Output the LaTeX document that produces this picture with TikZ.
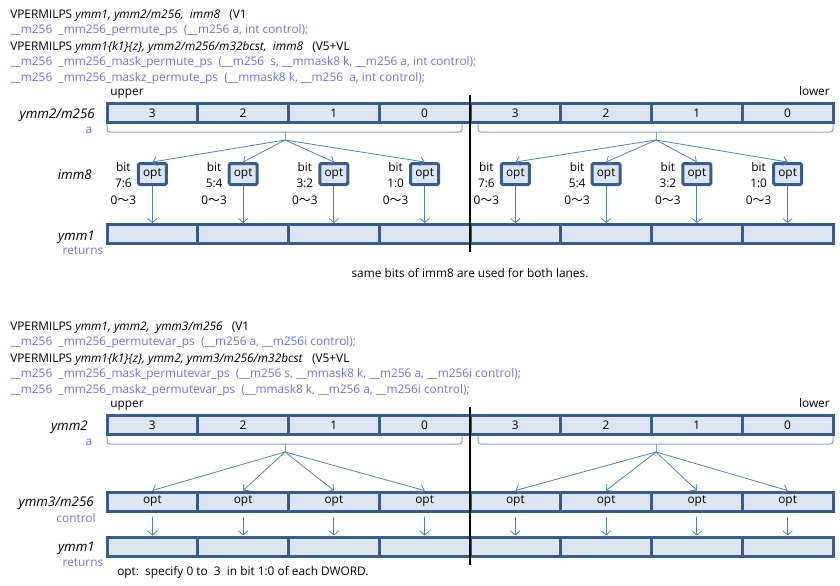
\documentclass[tikz,border=0pt]{standalone}
\usepackage{fontspec}
\setmainfont{Open Sans}
\newfontfamily\jpfont{Noto Sans CJK JP}
\usetikzlibrary{arrows.meta}
\definecolor{cellfill}{HTML}{DCE6F2}
\definecolor{celldraw}{HTML}{385D8A}
\definecolor{arrowblue}{HTML}{4F81BD}
\definecolor{bracecol}{HTML}{7F9FCF}
\definecolor{codeblue}{HTML}{7070E8}
\newcommand{\wave}{{\jpfont 〜}}
\tikzset{
  cell/.style={draw=celldraw, fill=cellfill, line width=2.25pt,
    minimum width=68.06pt, minimum height=14.25pt, inner sep=0pt},
  optbox/.style={draw=celldraw, fill=cellfill, line width=2.25pt,
    minimum width=21pt, minimum height=15.75pt, inner sep=0pt, rounded corners=1pt},
  link/.style={draw=arrowblue, line width=0.6pt, -{Straight Barb[length=3pt,width=7pt]}},
  brace/.style={draw=bracecol, line width=0.75pt, rounded corners=2pt},
  txt/.style={anchor=base west, inner sep=0pt},
  code/.style={txt, text=codeblue},
  reg/.style={anchor=east, inner sep=0pt, font=\itshape},
  arg/.style={inner sep=0pt, text=codeblue},
  lane/.style={line width=1.2pt},
  bits/.style={align=center, inner sep=0pt, font=\fontsize{8.9}{12.4}\selectfont}
}
\begin{document}
\begin{tikzpicture}[x=0.75pt, y=-0.75pt, font=\fontsize{8.9}{10}\selectfont]
\useasboundingbox (0,0) rectangle (840,586);

% --- VPERMILPS with imm8 ---
\node[txt]  (h1) at (10,18) {VPERMILPS \textit{ymm1, ymm2/m256,\ \ imm8}\ \ \ (V1};
\node[code] (h2) at (10,33) {\_\_m256\ \ \_mm256\_permute\_ps\ \ (\_\_m256 a, int control);};
\node[txt]  (h3) at (10,50) {VPERMILPS \textit{ymm1\{k1\}\{z\}, ymm2/m256/m32bcst,\ \ imm8}\ \ \ (V5+VL};
\node[code] (h4) at (10,65) {\_\_m256\ \ \_mm256\_mask\_permute\_ps\ \ (\_\_m256\ \ s, \_\_mmask8 k, \_\_m256 a, int control);};
\node[code] (h5) at (10,81) {\_\_m256\ \ \_mm256\_maskz\_permute\_ps\ \ (\_\_mmask8 k, \_\_m256\ \ a, int control);};
\node[txt] (up1) at (110,95) {upper};
\node[anchor=base east, inner sep=0pt] (lo1) at (830,95) {lower};

\node[reg] (ya) at (95,115) {ymm2/m256};
\node[arg] (na) at (89,130) {a};
\node[reg] (yi) at (92,175) {imm8};
\node[reg] (yr) at (95,237) {ymm1};
\node[arg] (nr) at (83,251) {returns};

\foreach \v [count=\i] in {3,2,1,0,3,2,1,0} {
  \node[cell] (a\i) at (61.625+90.75*\i,113) {\v};
  \node[cell] (r\i) at (61.625+90.75*\i,234) {};
}
\foreach \b [count=\i] in {7:6,5:4,3:2,1:0,7:6,5:4,3:2,1:0} {
  \node[optbox] (o\i) at (61.625+90.75*\i,174) {opt};
  \node[bits] (b\i) at (32.625+90.75*\i,183.5) {bit\\\b\\0\wave3};
  \draw[link] (o\i) -- (r\i);
}

\draw[brace] (107,124) |- (285,132) -| (462,124);
\draw[brace] (478,124) |- (656,132) -| (833,124);
\coordinate (bl) at (285,140);
\coordinate (br) at (656,140);
\draw[brace] (285,132) -- (bl);
\draw[brace] (656,132) -- (br);
\foreach \i in {1,...,4} \draw[link] (bl) -- (o\i.north);
\foreach \i in {5,...,8} \draw[link] (br) -- (o\i.north);

\draw[lane] (470,95) -- (470,252);
\node (note1) at (470,273) {same bits of imm8 are used for both lanes.};

% --- VPERMILPS with ymm3/m256 ---
\node[txt]  (g1) at (10,330) {VPERMILPS \textit{ymm1, ymm2,\ \ ymm3/m256}\ \ \ (V1};
\node[code] (g2) at (10,345) {\_\_m256\ \ \_mm256\_permutevar\_ps\ \ (\_\_m256 a, \_\_m256i control);};
\node[txt]  (g3) at (10,362) {VPERMILPS \textit{ymm1\{k1\}\{z\}, ymm2, ymm3/m256/m32bcst}\ \ \ (V5+VL};
\node[code] (g4) at (10,377) {\_\_m256\ \ \_mm256\_mask\_permutevar\_ps\ \ (\_\_m256 s, \_\_mmask8 k, \_\_m256 a, \_\_m256i control);};
\node[code] (g5) at (10,393) {\_\_m256\ \ \_mm256\_maskz\_permutevar\_ps\ \ (\_\_mmask8 k, \_\_m256 a, \_\_m256i control);};
\node[txt] (up2) at (110,407) {upper};
\node[anchor=base east, inner sep=0pt] (lo2) at (830,407) {lower};

\node[reg] (za) at (88,427) {ymm2};
\node[arg] (ma) at (89,442) {a};
\node[reg] (zc) at (94,503) {ymm3/m256};
\node[arg] (mc) at (76,518) {control};
\node[reg] (zr) at (95,548) {ymm1};
\node[arg] (mr) at (83,563) {returns};

\foreach \v [count=\i] in {3,2,1,0,3,2,1,0} {
  \node[cell] (s\i) at (61.625+90.75*\i,425) {\v};
  \node[cell] (c\i) at (61.625+90.75*\i,501.5) {opt};
  \node[cell] (d\i) at (61.625+90.75*\i,546.5) {};
  \draw[link, shorten <=3pt] (c\i) -- (d\i);
}

\draw[brace] (107,436) |- (285,444) -| (462,436);
\draw[brace] (478,436) |- (656,444) -| (833,436);
\coordinate (cl) at (285,452);
\coordinate (cr) at (656,452);
\draw[brace] (285,444) -- (cl);
\draw[brace] (656,444) -- (cr);
\foreach \i in {1,...,4} \draw[link] (cl) -- (c\i.north);
\foreach \i in {5,...,8} \draw[link] (cr) -- (c\i.north);

\draw[lane] (470,407) -- (470,565);
\node[txt] (note2) at (117,575) {opt:\ \ specify 0 to\ \ 3\ \ in bit 1:0 of each DWORD.};
\end{tikzpicture}
\end{document}
